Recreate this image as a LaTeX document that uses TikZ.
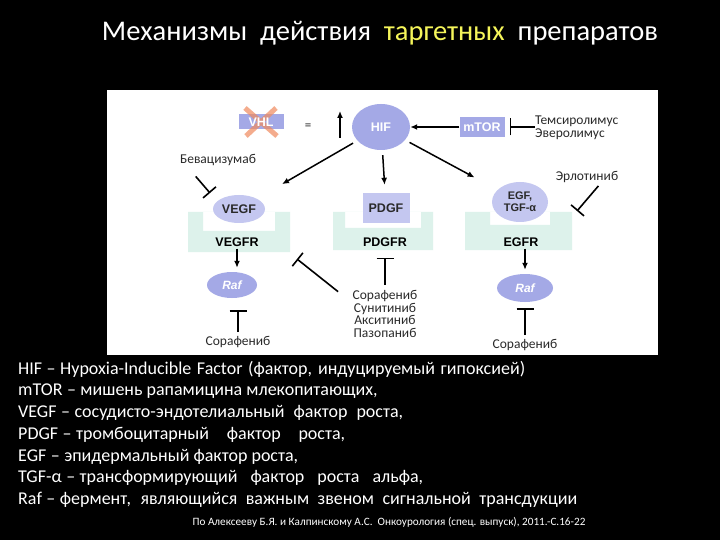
\documentclass[tikz,border=0pt]{standalone}
\usepackage{fontspec}
\setmainfont{Carlito}
\newfontfamily\labfont{Liberation Sans}
\usetikzlibrary{shapes.geometric,arrows.meta}
\definecolor{lav}{HTML}{A4A9E6}
\definecolor{lavlight}{HTML}{C4C7F0}
\definecolor{cupcol}{HTML}{DDF2EB}
\definecolor{ttl}{HTML}{F5F55A}
\definecolor{xcol}{HTML}{F08A5D}
\definecolor{ink}{HTML}{2A2A2A}
\newcommand{\legline}[2]{\makebox[#1pt][s]{#2}}
\newcommand{\legdash}{\hspace{0.25em}–\hspace{0.25em}}

\begin{document}
\begin{tikzpicture}[x=1pt,y=-1pt,
  mol/.style={ellipse,fill=lav,inner sep=0pt,text=white,font=\labfont\bfseries\fontsize{12.5}{13}\selectfont},
  molbox/.style={rectangle,fill=lav,inner sep=0pt,text=white,font=\labfont\bfseries\fontsize{12.5}{13}\selectfont},
  lig/.style={mol,fill=lavlight,text=ink},
  rec/.style={inner sep=0pt,text=black,font=\labfont\bfseries\fontsize{12.5}{13}\selectfont},
  drug/.style={inner sep=0pt,text=ink,font=\fontsize{13.5}{12.4}\selectfont},
  act/.style={-{Latex[length=7pt,width=6pt]},line width=1.5pt,black},
  inh/.style={-{Bar[width=17pt]},line width=1.6pt,black},
  cup/.style={fill=cupcol,even odd rule},
  legend/.style={anchor=west,inner sep=0pt,text=white,font=\fontsize{18}{19}\selectfont}]

\fill[black] (0,0) rectangle (720,540);
\useasboundingbox (0,0) rectangle (720,540);

\node[text=white,font=\fontsize{28.5}{30}\selectfont] (title) at (380,33)
  {Механизмы~ действия~ \textcolor{ttl}{таргетных}~ препаратов};

\fill[white] (107,90) rectangle (658,355);

\fill[cup] (188,212) rectangle (290,252) (203,212) rectangle (275,231);
\fill[cup] (333,212) rectangle (433,250) (345,212) rectangle (421,228);
\fill[cup] (465,212) rectangle (572,250) (490,212) rectangle (550,225);

\node[molbox,minimum width=45,minimum height=15] (vhl) at (261,122) {};
\draw[xcol,opacity=0.7,line width=5pt] (245,108) -- (277,136) (276,108) -- (246,136);
\node[molbox,fill=none] (vhltxt) at (vhl) {VHL};
\node[text=ink,font=\fontsize{13}{13}\selectfont] (eq) at (308,127) {=};
\coordinate (up0) at (340,138);
\coordinate (up1) at (340,111);
\draw[act] (up0) -- (up1);

\node[mol,minimum width=58,minimum height=46] (hif) at (381,127) {HIF};
\node[molbox,minimum width=45,minimum height=20] (mtor) at (482,127) {mTOR};
\node[drug,align=left,anchor=north west] (temsi) at (535,116) {Темсиролимус\\Эверолимус};

\node[lig,minimum width=52,minimum height=28] (vegf) at (239,209) {VEGF};
\node[molbox,fill=lavlight,text=ink,minimum width=47,minimum height=30] (pdgf) at (386,208) {PDGF};
\node[lig,align=center,minimum width=56,minimum height=40,font=\labfont\bfseries\fontsize{11}{12}\selectfont] (egf) at (520,202) {EGF,\\TGF-α};

\node[rec] (vegfr) at (237,242) {VEGFR};
\node[rec] (pdgfr) at (385,242) {PDGFR};
\node[rec] (egfr) at (521,242) {EGFR};

\node[drug] (beva) at (218,160) {Бевацизумаб};
\coordinate (bevaT) at (210,193);
\node[drug] (erlo) at (587,177) {Эрлотиниб};
\coordinate (erloT) at (577,211);

\node[mol,font=\labfont\bfseries\itshape\fontsize{12}{12}\selectfont,minimum width=50,minimum height=26] (rafL) at (232,285) {Raf};
\node[mol,font=\labfont\bfseries\itshape\fontsize{12}{12}\selectfont,minimum width=56,minimum height=28] (rafR) at (525,288) {Raf};

\node[drug] (sorL) at (238,342) {Сорафениб};
\node[drug] (sorR) at (525,345) {Сорафениб};
\node[drug,align=center] (pdgfD) at (385,314) {Сорафениб\\Сунитиниб\\Акситиниб\\Пазопаниб};
\coordinate (vegfrT) at (297,259);

\draw[act] (mtor) -- (hif);
\draw[inh,shorten >=5pt] (temsi.west |- mtor) -- (mtor.east);
\draw[act,shorten <=5pt,shorten >=29pt] (hif) -- (vegf);
\draw[act,shorten <=5pt,shorten >=8pt] (hif) -- (pdgf);
\draw[act,shorten <=5pt,shorten >=26pt] (hif) -- (egf);
\draw[inh,shorten <=6pt] (beva.south west) ++(12,6) -- (bevaT);
\draw[inh,shorten <=4pt] (erlo.south) ++(14,0) -- (erloT);
\draw[act,shorten <=2pt,shorten >=4pt] (vegfr) -- (vegfr |- rafL.north);
\draw[act,shorten <=2pt,shorten >=4pt] (egfr.south -| rafR) -- (rafR);
\draw[inh,shorten <=4pt,shorten >=12pt] (sorL) -- (sorL |- rafL.south);
\draw[inh,shorten <=4pt,shorten >=6pt] (sorR) -- (rafR);
\draw[inh,shorten <=6pt,shorten >=11pt] (pdgfD) -- (pdgfr);
\draw[inh,shorten <=3pt] (pdgfD.north west) ++(-12,3) -- (vegfrT);

\node[legend] (l1) at (18,369) {\legline{507}{HIF\legdash Hypoxia-Inducible Factor (фактор, индуцируемый гипоксией)}};
\node[legend] (l2) at (18,391) {mTOR\legdash мишень рапамицина млекопитающих,};
\node[legend] (l3) at (18,413) {\legline{385}{VEGF\legdash сосудисто-эндотелиальный фактор роста,}};
\node[legend] (l4) at (18,435) {\legline{327}{PDGF\legdash тромбоцитарный фактор роста,}};
\node[legend] (l5) at (18,457) {EGF\legdash эпидермальный фактор роста,};
\node[legend] (l6) at (18,478) {\legline{405}{TGF-α\legdash трансформирующий фактор роста альфа,}};
\node[legend] (l7) at (18,500) {\legline{559}{Raf\legdash фермент, являющийся важным звеном сигнальной трансдукции}};
\node[text=white,inner sep=0pt,font=\fontsize{11.2}{12}\selectfont] (cite) at (389,522)
  {По Алексееву Б.Я. и Калпинскому А.С.~ Онкоурология (спец. выпуск), 2011.-С.16-22};

\end{tikzpicture}
\end{document}
